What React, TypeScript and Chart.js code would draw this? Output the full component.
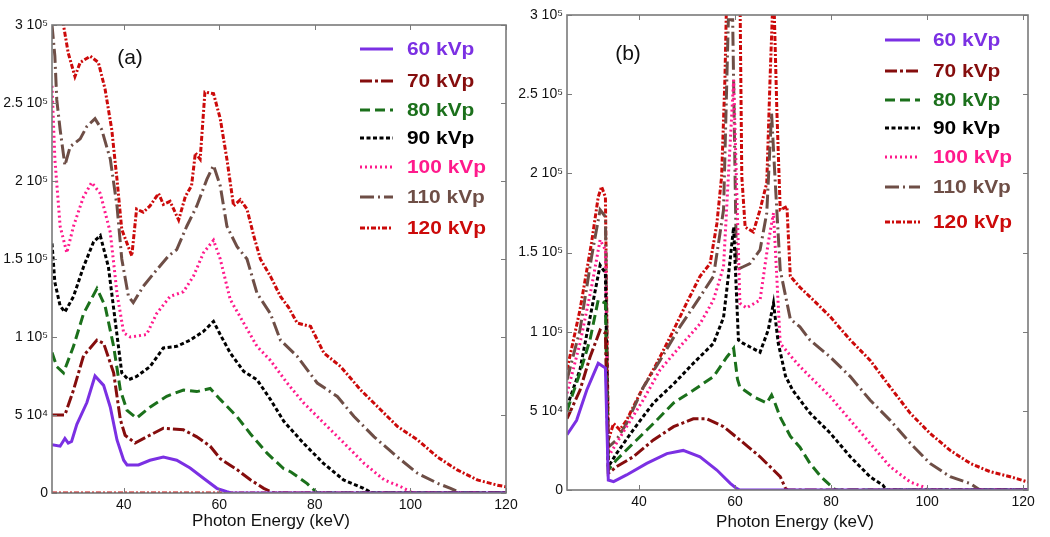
import React, { useEffect, useRef } from "react";
import { Chart, registerables } from "chart.js";

Chart.register(...registerables);

// ---------- shared labels / styles ----------
const seriesLabels = ["60 kVp", "70 kVp", "80 kVp", "90 kVp", "100 kVp", "110 kVp", "120 kVp"];
const seriesColors = ["#7b30e3", "#850d0d", "#1b701b", "#000000", "#ff1a8c", "#6e4e46", "#cc0a0a"];
const seriesDash: number[][] = [[], [12, 3, 3, 3], [10, 5], [4, 2.5], [2, 3], [14, 4, 2, 4], [5, 2, 2, 2]];

const xTickValues = [40, 60, 80, 100, 120];
const yTickValues = [0, 50000, 100000, 150000, 200000, 250000, 300000];
const yTickLabels = ["0", "5 10\u2074", "1 10\u2075", "1.5 10\u2075", "2 10\u2075", "2.5 10\u2075", "3 10\u2075"];
const xTitle = "Photon Energy (keV)";

// ---------- panel (a): [keV, counts x 1000] ----------
const a60 = [[25,31],[26.7,30],[27.7,35],[28.4,32],[29.1,33],[30.2,44],[32.3,58],[34.0,75],[35.8,69],[37.2,55],[38.6,34],[40.0,21],[40.7,18],[43.1,18],[45.5,21],[48.3,23],[51.1,21],[53.9,16],[56.7,9.5],[59.5,3],[61.6,0.8],[62.5,0],[120,0]];
const a70 = [[25,50],[27.7,50],[29.5,66],[31.6,88],[34.4,98],[35.8,96],[37.9,77],[39.3,47],[40.3,37],[42.4,32],[44.8,36],[48.3,41.5],[52.5,40.5],[55.3,36],[58.1,30],[60.2,22],[63.7,15],[66.5,8.5],[69.3,3],[71.4,0],[120,0]];
const a80 = [[25,90],[26,81],[27.4,77],[29.5,94],[31.6,115],[34.4,131],[36.1,120],[37.9,94],[39.3,66],[40.7,53],[42.7,48],[45.5,55],[49,62],[52.5,66],[55.3,65],[58.1,67],[60.2,60],[63.7,49],[66.5,38],[70,25.5],[73.5,15.5],[75,13.5],[78.4,6],[80.5,0],[120,0]];
const a90 = [[25,160],[25.6,135],[26.7,120],[27.7,116],[29.5,126],[31.6,145],[33.7,161],[35.1,165],[36.8,145],[38.2,111],[39.6,77],[41,72.6],[42.7,74.7],[45.5,81],[48.3,93],[51.1,94],[53.9,98],[56.7,103.6],[58.8,110],[60.2,101.6],[62.3,89.7],[65.1,78],[67.9,72.6],[70.7,60],[73.5,46],[77.6,32],[81.8,19],[86,8.4],[90.2,3],[92,0],[120,0]];
const a100 = [[25,261],[25.6,214],[26.7,171],[28.1,154],[29.5,171],[31.6,190],[33.3,199],[35.1,192],[37.2,167],[38.6,128],[40,102.6],[41.4,100],[44.8,101.6],[46.9,115],[49.7,126],[52.5,129],[54.6,139],[56.7,154],[58.8,162],[60.2,150],[62.3,124],[65.1,109],[67.9,94],[70.7,85],[74.2,70.5],[77.7,57.6],[81.9,44.8],[86.1,32],[90.3,19],[94.5,8.4],[98,4],[100.5,0],[120,0]];
const a110 = [[25,300],[25.6,280],[26,252],[26.7,233],[27.7,210],[28.8,222],[30.9,227],[32.3,235],[34,240],[35.4,233],[37.2,214],[38.6,184],[39.6,150],[41,126],[42,122],[44.1,132.5],[46.9,143],[49.4,152],[51.1,156],[53.2,171],[55.3,184],[57.4,201],[58.8,210],[60.2,197],[61.6,171],[63.7,158],[65.8,150],[67.9,128],[70.7,115],[72.8,98],[76.3,87.6],[80.5,70.5],[84.7,61.9],[88.2,49],[92.4,36],[97.3,23],[101.5,12.6],[105.7,6.2],[108.4,3],[110.5,0],[120,0]];
const a120 = [[25,330],[27.4,300],[28.4,282],[29.8,267],[30.9,276],[33,280],[34.7,276],[36.1,259],[37.5,233],[38.6,201],[39.6,169],[40.7,160],[41.7,152],[42.7,182],[44.1,180],[45.5,184],[47.3,192],[48.3,185],[49.7,187],[51.5,175],[52.9,190],[54.2,197],[55,218],[56,214],[57,257],[58.8,256],[60.2,240],[61.6,214],[63,184],[64.4,188],[65.8,182],[67.2,165],[68.6,150],[70.7,139],[72.8,126],[74.5,119],[76.3,109],[79.1,106.8],[81.9,89.7],[85.4,81],[89.6,66],[93.1,55.4],[97.3,42.6],[101.5,34],[105.7,23],[109.8,14.8],[114,8.4],[118.2,5],[120,4]];
const aBaseline = [[25,0],[120,0]];

// ---------- panel (b): [keV, counts x 1000] ----------
const b60 = [[25,35],[27,44],[29.1,63],[31.5,80],[33,77],[33.6,6.3],[34.7,5.3],[37.4,9.5],[41.6,16.8],[45.8,23],[49.2,25],[52.7,21],[56.2,12.6],[59,4.2],[60.3,1],[61,0],[121,0]];
const b70 = [[25,45],[27.7,63],[29.8,84],[31.9,101],[33,99],[33.6,10.5],[35.3,14.7],[38.8,21],[43,31.6],[47.2,40],[51.3,45],[54.1,45],[57.6,40],[61,31.6],[65.2,21],[69.4,8.4],[70.5,1],[71,0],[121,0]];
const b80 = [[25,50],[27.7,74],[29.8,95],[31.5,120],[33,118],[33.6,12.6],[35.3,19],[38.8,29.5],[43,42],[47.2,55],[51.3,63],[55.5,71.6],[58.3,84],[59.7,89.5],[60.5,70],[61,65],[63.8,59],[66.6,55],[67.6,60],[68.3,55],[69.4,46],[71.5,34],[73.5,27],[75.6,16.8],[78,8],[80.5,1],[81,0],[121,0]];
const b90 = [[25,52.6],[27.7,76],[30.1,113.7],[31.9,142],[33,137],[33.6,14.7],[35.3,23],[38.8,38],[43,55],[47.2,67],[51.3,80],[55.5,92.6],[57.6,109],[58.6,135],[59.7,166],[60.7,94.7],[61.7,92.6],[65.2,87],[66.9,101],[68,118],[69,92.6],[70.5,72],[72,63],[75.6,48.6],[79.8,36],[84,21],[88.1,8.4],[90.8,3],[91.5,0],[121,0]];
const b100 = [[25,61],[27.7,92.6],[30.1,128],[31.9,158],[33,151.6],[33.6,21],[35.3,29.5],[37.4,40],[40.9,57],[44.4,76],[48.5,90.5],[52.7,105],[55.5,120],[57.6,141],[58.6,198],[59.7,259],[61,118],[62.4,115],[65.2,120],[66.9,156],[68,175],[69.4,92.6],[71.5,85],[73.5,78],[75.6,71.6],[79.8,59],[84,44],[88.1,29.5],[92.3,14.7],[96.5,5],[99.2,2],[100,0],[121,0]];
const b110 = [[25,69.5],[27.7,101],[30.1,147],[31.9,177],[33,172.6],[33.6,27],[35.3,31.6],[37.4,42],[40.9,65],[44.4,82],[48.5,103],[52.7,122],[55.5,135],[57.6,177],[58.6,297],[59.5,297],[60.3,139],[61.7,141],[63.1,143],[65.2,151.6],[66.6,175],[67.6,238],[68.3,198],[69.4,139],[71.5,108],[73.5,103],[75.6,94.7],[79.8,84],[84,71.6],[88.1,56.8],[92.3,44],[96.5,29.5],[100.6,16.8],[104.8,8.4],[109,4],[111,0],[121,0]];
const b120 = [[25,76],[27.7,113.7],[30.1,156],[31.5,185],[32.2,191.6],[33,185],[33.6,31.6],[34.7,42],[36,38],[37.4,44],[40.2,61],[43.7,80],[47.2,101],[49.9,118],[52.7,135],[54.8,143],[56.2,168],[57.2,198],[57.9,261],[58.3,320],[61,320],[61.4,198],[62.1,166],[63.8,163],[65.2,177],[66.6,194],[67.3,261],[68,320],[68.7,240],[69.4,177],[70.8,179],[71.5,135],[73.5,128],[75.6,122],[79.8,109.5],[84,94.7],[88.1,82],[92.3,65],[96.5,48.4],[100.6,35.8],[104.8,25],[109,16.8],[113.1,11.6],[117.3,8.4],[121,5]];

const panelASeries = [a60, a70, a80, a90, a100, a110, a120];
const panelBSeries = [b60, b70, b80, b90, b100, b110, b120];

const FONT = "'Liberation Sans', Arial, Helvetica, sans-serif";

type PanelCfg = {
  left: number;
  width: number;
  label: string;
  labelX: number;
  labelY: number;
  legendLine: [number, number];
  legendTextX: number;
  legendRows: number[];
  titleX: number;
  titleY: number;
  padTop: number;
  padRight: number;
  yWidth: number;
  xHeight: number;
  xMax: number;
};

function decorPlugin(cfg: PanelCfg) {
  return {
    id: "panelDecor",
    afterDatasetsDraw(chart: any) {
      const { ctx, chartArea: ca, scales } = chart;
      const xs = scales.x;
      const ys = scales.y;
      ctx.save();
      // inward tick marks on all four sides
      ctx.strokeStyle = "#7a7a7a";
      ctx.lineWidth = 1;
      ctx.setLineDash([]);
      ctx.beginPath();
      xTickValues.forEach((v) => {
        const px = Math.round(xs.getPixelForValue(v)) + 0.5;
        ctx.moveTo(px, ca.bottom);
        ctx.lineTo(px, ca.bottom - 5);
        ctx.moveTo(px, ca.top);
        ctx.lineTo(px, ca.top + 5);
      });
      yTickValues.forEach((v) => {
        const py = Math.round(ys.getPixelForValue(v)) + 0.5;
        ctx.moveTo(ca.left, py);
        ctx.lineTo(ca.left + 5, py);
        ctx.moveTo(ca.right, py);
        ctx.lineTo(ca.right - 5, py);
      });
      ctx.stroke();
      // frame
      ctx.strokeStyle = "#7a7a7a";
      ctx.lineWidth = 1.6;
      ctx.strokeRect(ca.left, ca.top, ca.right - ca.left, ca.bottom - ca.top);

      // panel label
      ctx.fillStyle = "#111";
      ctx.font = `21px ${FONT}`;
      ctx.textAlign = "center";
      ctx.textBaseline = "middle";
      ctx.fillText(cfg.label, cfg.labelX, cfg.labelY);

      // legend
      chart.data.datasets.forEach((ds: any, i: number) => {
        if (i >= seriesLabels.length) return;
        const y = cfg.legendRows[i];
        ctx.save();
        ctx.strokeStyle = ds.borderColor;
        ctx.lineWidth = 3;
        ctx.setLineDash(ds.borderDash || []);
        ctx.beginPath();
        ctx.moveTo(cfg.legendLine[0], y);
        ctx.lineTo(cfg.legendLine[1], y);
        ctx.stroke();
        ctx.restore();
        ctx.save();
        ctx.fillStyle = ds.borderColor;
        ctx.font = `bold 19px ${FONT}`;
        ctx.textAlign = "left";
        ctx.textBaseline = "middle";
        ctx.translate(cfg.legendTextX, y + 1);
        ctx.scale(1.1, 1);
        ctx.fillText(ds.label, 0, 0);
        ctx.restore();
      });

      // x-axis title
      ctx.fillStyle = "#111";
      ctx.font = `17px ${FONT}`;
      ctx.textAlign = "center";
      ctx.textBaseline = "middle";
      ctx.fillText(xTitle, cfg.titleX, cfg.titleY);
      ctx.restore();
    },
  };
}

function buildConfig(series: number[][][], cfg: PanelCfg, withBaseline: boolean): any {
  const datasets: any[] = series.map((pts, i) => ({
    label: seriesLabels[i],
    data: pts.map(([e, v]) => ({ x: e, y: v * 1000 })),
    borderColor: seriesColors[i],
    backgroundColor: seriesColors[i],
    borderDash: seriesDash[i],
    borderWidth: 3,
    pointRadius: 0,
    tension: 0,
    fill: false,
  }));
  if (withBaseline) {
    datasets.push({
      label: "baseline",
      data: aBaseline.map(([e, v]) => ({ x: e, y: v * 1000 })),
      borderColor: seriesColors[6],
      borderDash: seriesDash[6],
      borderWidth: 3,
      pointRadius: 0,
      fill: false,
    });
  }
  return {
    type: "line",
    data: { datasets },
    options: {
      animation: false,
      responsive: false,
      devicePixelRatio: 1,
      layout: { padding: { top: cfg.padTop, right: cfg.padRight, left: 0, bottom: 0 } },
      plugins: { legend: { display: false }, tooltip: { enabled: false } },
      scales: {
        x: {
          type: "linear",
          min: 25,
          max: cfg.xMax,
          grid: { display: false, drawTicks: false },
          border: { display: false },
          afterBuildTicks: (scale: any) => {
            scale.ticks = xTickValues.map((v) => ({ value: v }));
          },
          afterFit: (scale: any) => {
            scale.height = cfg.xHeight;
          },
          ticks: {
            color: "#111",
            font: { family: FONT, size: 14 },
            padding: 4,
            maxRotation: 0,
            autoSkip: false,
          },
        },
        y: {
          type: "linear",
          min: 0,
          max: 300000,
          grid: { display: false, drawTicks: false },
          border: { display: false },
          afterBuildTicks: (scale: any) => {
            scale.ticks = yTickValues.map((v) => ({ value: v }));
          },
          afterFit: (scale: any) => {
            scale.width = cfg.yWidth;
          },
          ticks: {
            color: "#111",
            font: { family: FONT, size: 14 },
            padding: 4,
            autoSkip: false,
            callback: (value: number) => {
              const idx = yTickValues.indexOf(value);
              return idx >= 0 ? yTickLabels[idx] : "";
            },
          },
        },
      },
    },
    plugins: [decorPlugin(cfg)],
  };
}

// panel (a) canvas at x 0..525, panel (b) canvas at x 510..1050 (transparent overlap)
const cfgA: PanelCfg = {
  left: 0,
  width: 525,
  label: "(a)",
  labelX: 130,
  labelY: 58,
  legendLine: [360, 393],
  legendTextX: 407,
  legendRows: [49, 81, 110, 138, 167, 197, 228],
  titleX: 271,
  titleY: 521,
  padTop: 25,
  padRight: 19,
  yWidth: 52,
  xHeight: 44,
  xMax: 120,
};

const cfgB: PanelCfg = {
  left: 510,
  width: 540,
  label: "(b)",
  labelX: 118,
  labelY: 54,
  legendLine: [375, 410],
  legendTextX: 423,
  legendRows: [40, 71, 100, 128, 157, 187, 222],
  titleX: 285,
  titleY: 522,
  padTop: 15,
  padRight: 22,
  yWidth: 57,
  xHeight: 47,
  xMax: 121,
};

function Panel({ series, cfg, baseline }: { series: number[][][]; cfg: PanelCfg; baseline: boolean }) {
  const ref = useRef<HTMLCanvasElement | null>(null);
  useEffect(() => {
    if (!ref.current) return;
    const chart = new Chart(ref.current, buildConfig(series, cfg, baseline));
    return () => chart.destroy();
  }, []);
  return (
    <canvas
      ref={ref}
      width={cfg.width}
      height={537}
      style={{ position: "absolute", left: cfg.left, top: 0, width: cfg.width, height: 537, display: "block" }}
    />
  );
}

export default function App() {
  return (
    <div style={{ position: "absolute", left: 0, top: 0, width: 1050, height: 537, background: "#fff" }}>
      <Panel series={panelASeries} cfg={cfgA} baseline={true} />
      <Panel series={panelBSeries} cfg={cfgB} baseline={false} />
    </div>
  );
}
